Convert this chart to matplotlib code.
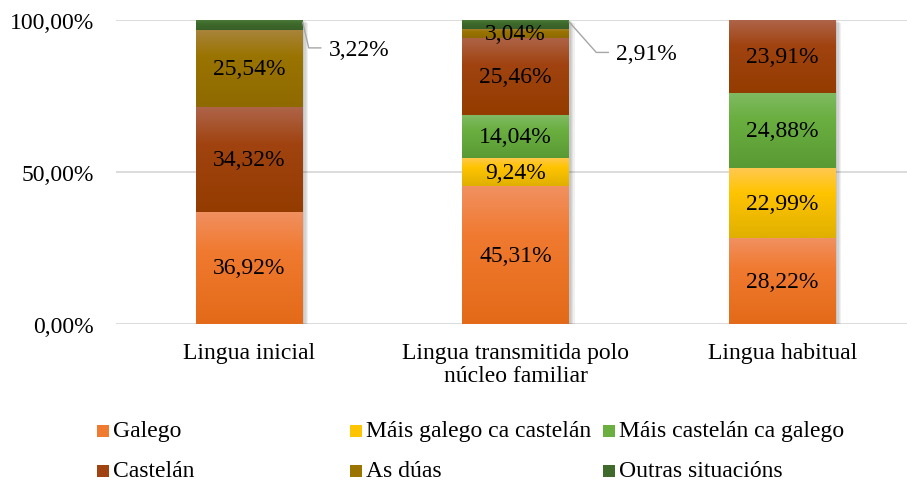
import numpy as np
import matplotlib
matplotlib.use("Agg")
import matplotlib.pyplot as plt
from matplotlib.patches import Rectangle
from matplotlib.colors import to_rgb
import matplotlib.patheffects as pe

plt.rcParams['font.family'] = ['Liberation Serif', 'DejaVu Serif']

categories = ["Lingua inicial", "Lingua transmitida polo\nnúcleo familiar", "Lingua habitual"]
series_names = ["Galego", "Máis galego ca castelán", "Máis castelán ca galego",
                "Castelán", "As dúas", "Outras situacións"]
galego = [36.92, 45.31, 28.22]
mais_galego = [0.0, 9.24, 22.99]
mais_castelan = [0.0, 14.04, 24.88]
castelan = [34.32, 25.46, 23.91]
as_duas = [25.54, 3.04, 0.0]
outras = [3.22, 2.91, 0.0]
series_values = [galego, mais_galego, mais_castelan, castelan, as_duas, outras]
y_ticks = [0, 50, 100]
y_tick_labels = ["0,00%", "50,00%", "100,00%"]

# (top, mid, bottom) gradient colours
grads = [
    ("#F19060", "#F07A30", "#E36A18"),
    ("#FFC850", "#FFC400", "#E0B000"),
    ("#80BA62", "#6AAF40", "#5A9A34"),
    ("#AE6448", "#A04310", "#943C00"),
    ("#A8843C", "#9A7400", "#8E6A00"),
    ("#4A7A36", "#3E6A2C", "#385F27"),
]

W, H = 907, 485
fig = plt.figure(figsize=(W / 100, H / 100), dpi=100)
ax_left, ax_right = 116, 907
ax_top, ax_bot = 21, 325
ax = fig.add_axes([ax_left / W, (H - ax_bot) / H, (ax_right - ax_left) / W, (ax_bot - ax_top) / H])

px_per_x = 266.5
xmax = (ax_right - ax_left) / px_per_x - 0.5
ax.set_xlim(-0.5, xmax)
ax.set_ylim(0, 100)
px_per_y = (ax_bot - ax_top) / 100.0

x = np.arange(len(categories))
bw = 107 / px_per_x
bottom = np.zeros(len(categories))

def grad_img(c):
    t, m, b = [np.array(to_rgb(k)) for k in c]
    n = 64
    s = np.linspace(0, 1, n)[:, None]
    img = np.where(s < 0.35, t + (m - t) * (s / 0.35), m + (b - m) * ((s - 0.35) / 0.65))
    return img[:, None, :]

shadow = [pe.SimplePatchShadow(offset=(o, -o * 0.5), shadow_rgbFace='#000000', alpha=0.06)
          for o in (1.0, 2.0, 3.0, 4.0)] + [pe.Normal()]

for k, vals in enumerate(series_values):
    bars = ax.bar(x, vals, bw, bottom=bottom, color=grads[k][1], linewidth=0, zorder=3,
                  path_effects=shadow)
    for i, p in enumerate(bars.patches):
        if vals[i] <= 0:
            continue
        im = ax.imshow(grad_img(grads[k]), extent=[p.get_x(), p.get_x() + p.get_width(),
                                                  p.get_y(), p.get_y() + p.get_height()],
                       aspect='auto', zorder=3.5, interpolation='bilinear')
        im.set_clip_path(p)
    bottom = bottom + np.array(vals)

ax.set_xlim(-0.5, xmax)
ax.set_ylim(0, 100)

fs = 17
def fmt(v):
    return f"{v:.2f}".replace(".", ",") + "%"

# data labels
cum = np.zeros(len(categories))
outside = {(5, 0): (6, 23, 18, 26), (5, 1): (27, 28, 39, 47)}
for k, vals in enumerate(series_values):
    for i, v in enumerate(vals):
        if v <= 0:
            continue
        yc = cum[i] + v / 2
        if (k, i) in outside:
            dx1, dy1, dx2, dxt = outside[(k, i)]
            x0 = x[i] + bw / 2
            xs = [x0, x0 + dx1 / px_per_x, x0 + dx2 / px_per_x]
            ye = yc - dy1 / px_per_y
            ax.plot(xs, [yc + 0.8, ye, ye], color='#A6A6A6', lw=1.0, zorder=5, clip_on=False)
            ax.text(x0 + dxt / px_per_x, ye - 0.5, fmt(v), ha='left', va='center', fontsize=fs, zorder=6)
        else:
            ax.text(x[i], yc, fmt(v), ha='center', va='center', fontsize=fs, zorder=6)
    cum = cum + np.array(vals)

ax.set_yticks(y_ticks)
ax.set_yticklabels(y_tick_labels, fontsize=fs)
ax.set_xticks(x)
ax.set_xticklabels(categories, fontsize=fs, linespacing=1.15)
ax.tick_params(axis='both', length=0)
ax.tick_params(axis='y', pad=16)
ax.tick_params(axis='x', pad=13)
for s in ax.spines.values():
    s.set_visible(False)
ax.grid(axis='y', color='#D9D9D9', lw=1.3, zorder=0)
ax.set_axisbelow(True)

# legend (equal-width columns like the original)
leg_cols = [97, 350, 603]
leg_rows = [432, 472]
for n, k in enumerate(range(len(series_names))):
    r, c = divmod(n, 3)
    mx = leg_cols[c]
    my = leg_rows[r]
    sq = 12
    fig.patches.append(Rectangle((mx / W, (H - my - sq / 2) / H), sq / W, sq / H,
                                 transform=fig.transFigure, facecolor=grads[k][1], edgecolor='none'))
    fig.text((mx + sq + 4) / W, (H - my) / H, series_names[k], fontsize=fs, ha='left', va='center')

fig.savefig("out.png", dpi=100)
